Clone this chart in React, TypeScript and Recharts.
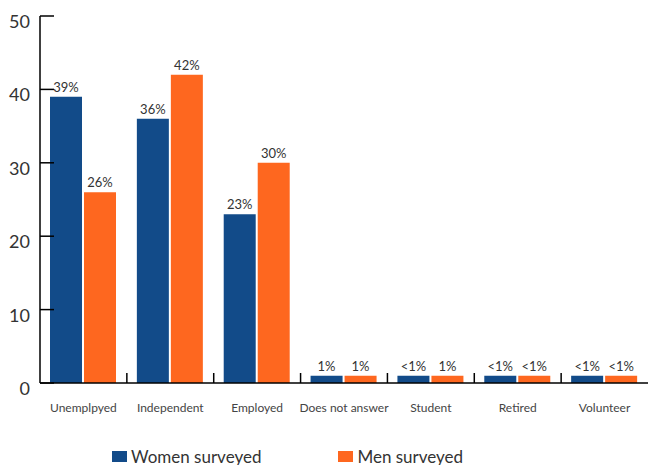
import React from 'react'
import { BarChart, Bar, XAxis, YAxis, Legend, LabelList } from 'recharts'

const categories = ['Unemplpyed', 'Independent', 'Employed', 'Does not answer', 'Student', 'Retired', 'Volunteer']
const women = [39, 36, 23, 1, 1, 1, 1]
const men = [26, 42, 30, 1, 1, 1, 1]
const womenLabels = ['39%', '36%', '23%', '1%', '<1%', '<1%', '<1%']
const menLabels = ['26%', '42%', '30%', '1%', '1%', '<1%', '<1%']
const yTicks = [0, 10, 20, 30, 40, 50]

const BLUE = '#124b89'
const ORANGE = '#fe671f'

const data = categories.map((name, i) => ({
  name,
  women: women[i],
  men: men[i],
  womenLabel: womenLabels[i],
  menLabel: menLabels[i],
}))

function CategoryTick(props: any) {
  const { x, y, payload, index } = props
  const count = props.visibleTicksCount ?? categories.length
  const w = typeof props.width === 'number' ? props.width : 608
  const step = w / count
  return (
    <g>
      <text x={x} y={y + 24} textAnchor="middle" dominantBaseline="central" fill="#444" fontSize={12}>
        {payload.value}
      </text>
      {index < count - 1 && (
        <line x1={x + step / 2} x2={x + step / 2} y1={y} y2={y - 10} stroke="#000" strokeWidth={1.5} />
      )}
    </g>
  )
}

function ValueTick(props: any) {
  const { x, y, payload } = props
  return (
    <g>
      <line x1={x} x2={x + 14} y1={y} y2={y} stroke="#000" strokeWidth={1.5} />
      <text x={x - 10} y={y + 5} textAnchor="end" dominantBaseline="central" fill="#333" fontSize={18}>
        {payload.value}
      </text>
    </g>
  )
}

function LegendContent() {
  const items = [
    { label: 'Women surveyed', color: BLUE },
    { label: 'Men surveyed', color: ORANGE },
  ]
  return (
    <div style={{ display: 'flex', height: 20, alignItems: 'center', gap: 77 }}>
      {items.map((it) => (
        <div key={it.label} style={{ display: 'flex', alignItems: 'center' }}>
          <span style={{ width: 15, height: 11, background: it.color, display: 'inline-block', marginRight: 4 }} />
          <span style={{ fontSize: 17, color: '#333' }}>{it.label}</span>
        </div>
      ))}
    </div>
  )
}

export default function App() {
  return (
    <div style={{ position: 'absolute', left: 0, top: 0, fontFamily: 'Lato, sans-serif' }}>
      <BarChart
        width={648}
        height={465}
        data={data}
        margin={{ top: 16, right: 0, bottom: 0, left: 0 }}
        barCategoryGap={10}
        barGap={2}
      >
        <XAxis
          dataKey="name"
          height={62}
          tickLine={false}
          tickSize={0}
          tickMargin={0}
          axisLine={{ stroke: '#000', strokeWidth: 1.5 }}
          tick={<CategoryTick />}
          interval={0}
        />
        <YAxis
          width={40}
          domain={[0, 50]}
          ticks={yTicks}
          tickLine={false}
          tickSize={0}
          tickMargin={0}
          axisLine={{ stroke: '#000', strokeWidth: 1.5 }}
          tick={<ValueTick />}
        />
        <Legend
          verticalAlign="bottom"
          content={<LegendContent />}
          wrapperStyle={{ left: 112, width: 'auto', top: 446 }}
        />
        <Bar dataKey="women" fill={BLUE} isAnimationActive={false}>
          <LabelList dataKey="womenLabel" position="top" offset={5} fill="#333" fontSize={13} />
        </Bar>
        <Bar dataKey="men" fill={ORANGE} isAnimationActive={false}>
          <LabelList dataKey="menLabel" position="top" offset={5} fill="#333" fontSize={13} />
        </Bar>
      </BarChart>
    </div>
  )
}
